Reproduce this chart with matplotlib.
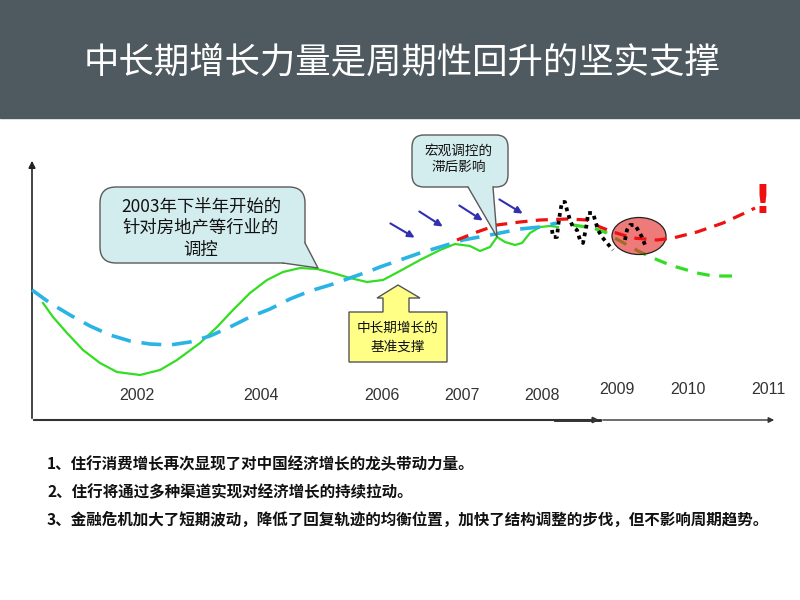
import numpy as np
import matplotlib
matplotlib.use("Agg")
import matplotlib.pyplot as plt
from matplotlib.patches import Polygon, Ellipse, FancyBboxPatch

plt.rcParams['font.family'] = ['Noto Sans CJK SC', 'DejaVu Sans']

# Texte
title = "中长期增长力量是周期性回升的坚实支撑"
notes = ["1、住行消费增长再次显现了对中国经济增长的龙头带动力量。",
         "2、住行将通过多种渠道实现对经济增长的持续拉动。",
         "3、金融危机加大了短期波动，降低了回复轨迹的均衡位置，加快了结构调整的步伐，但不影响周期趋势。"]
callout1_text = "2003年下半年开始的\n针对房地产等行业的\n调控"
callout2_text = "宏观调控的\n滞后影响"
support_text = "中长期增长的\n基准支撑"

# Jahre auf der x-Achse (Pixelposition, Beschriftung)
years = ["2002", "2004", "2006", "2007", "2008", "2009", "2010", "2011"]
year_x = [137, 261, 382, 462, 542, 617, 688, 768]

# Kurven (Bildkoordinaten, y nach unten)
blue_x = [32, 50, 70, 90, 110, 130, 150, 170, 190, 210, 230, 250, 270, 290, 310, 330, 350, 370, 380, 400, 420, 440, 463, 490, 520, 540, 557]
blue_y = [290, 303, 315, 326, 335, 341, 344, 345, 342, 336, 327, 317, 309, 299, 291, 285, 278, 271, 267, 260, 253, 247, 240, 235, 229, 227, 223]

green_x = [43, 53, 67, 83, 100, 117, 140, 160, 177, 200, 217, 233, 250, 267, 283, 300, 317, 333, 350, 367, 383, 400, 420, 440, 455, 470, 480, 490, 497, 505, 515, 522, 530, 540, 550, 558]
green_y = [303, 317, 333, 350, 363, 372, 375, 370, 360, 343, 327, 310, 293, 280, 272, 268, 269, 273, 278, 282, 280, 271, 260, 250, 244, 246, 251, 247, 237, 242, 245, 243, 233, 227, 226, 227]

green2_x = [573, 593, 607, 613, 640, 653, 670, 697, 713, 737]
green2_y = [225, 228, 233, 237, 252, 258, 265, 273, 276, 276]

red_x = [457, 477, 497, 520, 540, 567, 587, 600, 613, 633, 657, 673, 697, 723, 747, 755]
red_y = [240, 232, 225, 222, 220, 219, 220, 227, 232, 238, 240, 238, 232, 223, 212, 208]

dot_x = [552, 553, 557, 558, 560, 562, 565, 567, 570, 573, 577, 580, 583, 585, 587, 588, 593, 595, 598, 602, 607, 613]
dot_y = [230, 237, 237, 227, 213, 202, 202, 210, 220, 227, 230, 240, 243, 233, 223, 213, 213, 220, 230, 237, 243, 250]
dot2_x = [625, 627, 630, 635, 638, 642, 645]
dot2_y = [240, 230, 225, 225, 230, 237, 245]

# Druckpfeile (Start, Ende)
arrows = [((388, 222), (417, 239)), ((417, 210), (445, 228)),
          ((457, 204), (485, 222)), ((497, 198), (525, 215))]

fig = plt.figure(figsize=(8, 6), dpi=100)
ax = fig.add_axes([0, 0, 1, 1])
ax.set_xlim(0, 800)
ax.set_ylim(600, 0)
ax.axis('off')

# Titelbalken
ax.add_patch(plt.Rectangle((0, 0), 800, 118, color='#4f5a60', zorder=1))
ax.text(402, 62, title, color='white', fontsize=25.5, ha='center', va='center', zorder=2)

# Achsen
ax.annotate('', xy=(32, 158), xytext=(32, 421),
            arrowprops=dict(arrowstyle='-|>', color='#222222', lw=1.2, mutation_scale=10))
ax.annotate('', xy=(602, 420), xytext=(31, 420),
            arrowprops=dict(arrowstyle='-|>', color='#333333', lw=1.5, mutation_scale=8))
ax.annotate('', xy=(777, 420), xytext=(600, 420),
            arrowprops=dict(arrowstyle='-|>', color='#333333', lw=1.0, mutation_scale=8))
ax.plot([555, 600], [420, 420], color='#222222', lw=2)

for yr, xp in zip(years, year_x):
    yy = 395 if int(yr) <= 2008 else 389
    ax.text(xp, yy, yr, fontsize=11.5, family='Liberation Sans', color='#333333',
            ha='center', va='center')

# Kurven
ax.plot(green_x, green_y, color='#33dd22', lw=1.6, zorder=3)
ax.plot(blue_x, blue_y, color='#2ab4e6', lw=2.6, dashes=(5.5, 3), zorder=4)
ax.plot(green2_x, green2_y, color='#33dd22', lw=2.3, dashes=(4, 3), zorder=3)
ax.add_patch(Ellipse((639, 236), 54, 37, facecolor='#e62828', alpha=0.62, zorder=4))
ax.add_patch(Ellipse((639, 236), 54, 37, facecolor='none', edgecolor='#222222', lw=0.9, zorder=4))
ax.plot(red_x, red_y, color='#ee1111', lw=2.3, dashes=(3.8, 2.6), zorder=5)
ax.plot(dot_x, dot_y, color='black', lw=2.7, linestyle=(0, (1, 1.1)), zorder=6)
ax.plot(dot2_x, dot2_y, color='black', lw=2.7, linestyle=(0, (1, 1.1)), zorder=6)
ax.text(762, 202, "!", color='#ee1111', fontsize=28, fontweight='bold',
        family='DejaVu Sans', ha='center', va='center', zorder=6)

for (x0, y0), (x1, y1) in arrows:
    ax.annotate('', xy=(x1, y1), xytext=(x0, y0),
                arrowprops=dict(arrowstyle='-|>', color='#3030b0', lw=1.5, mutation_scale=10))


# Sprechblase: abgerundetes Rechteck mit Spitze
def callout(x0, y0, x1, y1, r, tail, inner, fs, text, tx, ty):
    box = FancyBboxPatch((x0 + r, y0 + r), x1 - x0 - 2 * r, y1 - y0 - 2 * r,
                         boxstyle='round,pad=%d' % r, facecolor='#d3ecee',
                         edgecolor='#5a5a5a', lw=1.0, zorder=7)
    ax.add_patch(box)
    ax.add_patch(Polygon(list(tail) + list(inner), closed=True, facecolor='#d3ecee',
                         edgecolor='none', zorder=8))
    tx_, ty_ = zip(*tail)
    ax.plot(tx_, ty_, color='#5a5a5a', lw=1.0, zorder=9)
    ax.text(tx, ty, text, fontsize=fs, ha='center', va='center', linespacing=1.25,
            color='#111111', zorder=10)


callout(100, 187, 305, 263, 16,
        [(283, 263), (318, 268), (305, 243)], [(298, 243), (283, 257)],
        12.5, callout1_text, 201, 228)
callout(412, 135, 508, 187, 12,
        [(468, 187), (497, 237), (493, 187)], [(493, 184), (468, 184)],
        9.8, callout2_text, 459, 159)

# gelber Pfeil
arrow_shape = [(349, 312), (383, 312), (383, 298), (377, 298), (398, 285), (420, 298),
               (409, 298), (409, 312), (447, 312), (447, 362), (349, 362)]
ax.add_patch(Polygon(arrow_shape, closed=True, facecolor='#ffff85', edgecolor='#555555',
                     lw=1.0, zorder=7))
ax.text(398, 337, support_text, fontsize=9.8, ha='center', va='center', linespacing=1.4,
        color='#111111', zorder=8)

# Fazit
for i, line in enumerate(notes):
    ax.text(47, 464 + 28 * i, line, fontsize=11.2, fontweight='bold', ha='left',
            va='center', color='#111111')

fig.savefig('out.png', dpi=100)
